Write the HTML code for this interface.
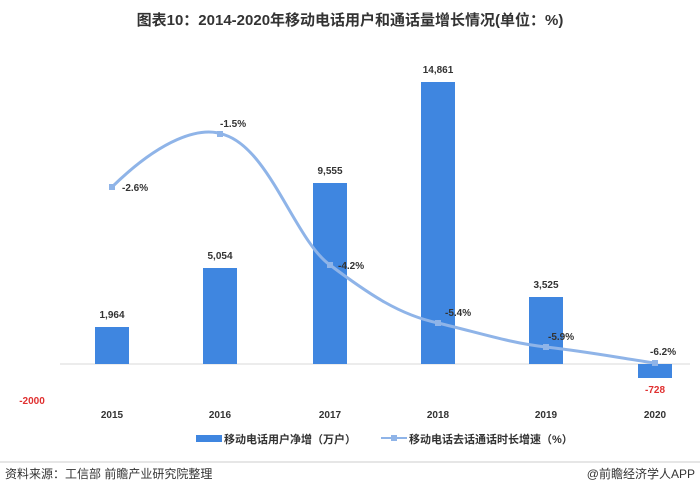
<!DOCTYPE html>
<html><head><meta charset="utf-8"><style>
body{margin:0;width:700px;height:497px;background:#fff;overflow:hidden}
svg text{font-family:"Liberation Sans","Noto Sans CJK SC",sans-serif}
</style></head><body>
<svg width="700" height="497" viewBox="0 0 700 497">
<text x="350" y="25" text-anchor="middle" font-size="15" font-weight="bold" fill="#333">图表10：2014-2020年移动电话用户和通话量增长情况(单位：%)</text>
<line x1="60" y1="364" x2="690" y2="364" stroke="#d9d9d9"/>
<g fill="#3f86e0">
<rect x="95" y="327" width="34" height="37"/>
<rect x="203" y="268" width="34" height="96"/>
<rect x="313" y="183" width="34" height="181"/>
<rect x="421" y="82" width="34" height="282"/>
<rect x="529" y="297" width="34" height="67"/>
<rect x="638" y="364" width="34" height="14"/>
</g>
<g font-size="10" font-weight="bold" fill="#333" text-anchor="middle">
<text x="112" y="318">1,964</text>
<text x="220" y="259">5,054</text>
<text x="330" y="174">9,555</text>
<text x="438" y="73">14,861</text>
<text x="546" y="288">3,525</text>
<text x="655" y="393" fill="#e03030">-728</text>
<text x="32" y="404" fill="#e03030">-2000</text>
<text x="112" y="418">2015</text>
<text x="220" y="418">2016</text>
<text x="330" y="418">2017</text>
<text x="438" y="418">2018</text>
<text x="546" y="418">2019</text>
<text x="655" y="418">2020</text>
</g>
<path d="M112,187 C160,140 200,125 225,135 C270,150 295,240 330,265 C370,295 400,315 438,323 C480,333 510,343 546,347 C590,352 620,358 655,363" fill="none" stroke="#8fb4e8" stroke-width="3"/>
<g fill="#8fb4e8">
<rect x="109" y="184" width="6" height="6"/><rect x="217" y="131" width="6" height="6"/>
<rect x="327" y="262" width="6" height="6"/><rect x="435" y="320" width="6" height="6"/>
<rect x="543" y="344" width="6" height="6"/><rect x="652" y="360" width="6" height="6"/>
</g>
<g font-size="10" font-weight="bold" fill="#333">
<text x="122" y="191">-2.6%</text>
<text x="220" y="127">-1.5%</text>
<text x="338" y="269">-4.2%</text>
<text x="445" y="316">-5.4%</text>
<text x="548" y="340">-5.9%</text>
<text x="650" y="355">-6.2%</text>
</g>
<rect x="196" y="435" width="26" height="7" fill="#3f86e0"/>
<text x="224" y="443" font-size="11" font-weight="bold" fill="#333">移动电话用户净增（万户）</text>
<line x1="381" y1="438" x2="407" y2="438" stroke="#8fb4e8" stroke-width="2"/>
<rect x="391" y="435" width="6" height="6" fill="#8fb4e8"/>
<text x="409" y="443" font-size="11" font-weight="bold" fill="#333">移动电话去话通话时长增速（%）</text>
<line x1="0" y1="462" x2="700" y2="462" stroke="#ccc"/>
<text x="5" y="478" font-size="12" fill="#333">资料来源：工信部 前瞻产业研究院整理</text>
<text x="695" y="478" font-size="12" fill="#333" text-anchor="end">@前瞻经济学人APP</text>
</svg>
</body></html>
